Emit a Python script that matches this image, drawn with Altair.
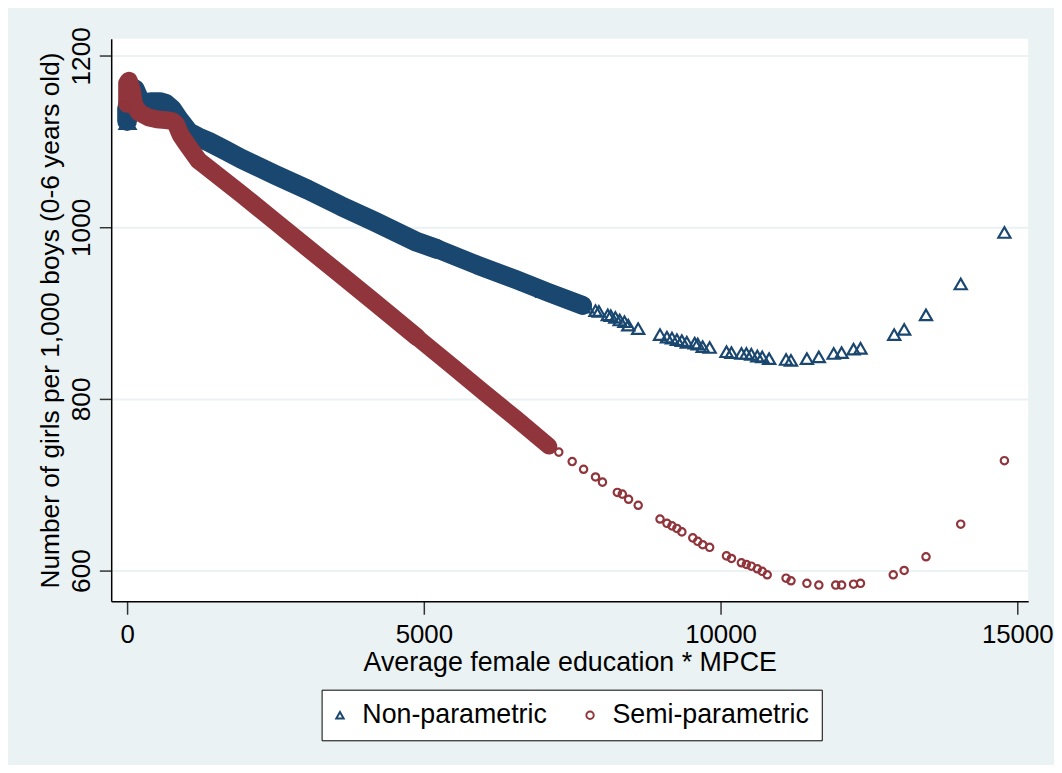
import altair as alt
import pandas as pd

SERIES = ["Non-parametric", "Semi-parametric"]
COLORS = ["#1a476f", "#90353b"]
SHAPES = ["triangle-up", "circle"]

# dense part of each series (read along the middle of the band)
np_band_x = [0, 0, 40, 90, 130, 200, 300, 420, 550, 650, 753, 870, 1037, 1200, 1371, 1650,
             1923, 2500, 3043, 3600, 4164, 4883, 5217, 5900, 6555, 7100, 7676]
np_band_y = [1124, 1138, 1150, 1158, 1161, 1150, 1145, 1146, 1146, 1144, 1138, 1126, 1111, 1105, 1100, 1090,
             1080, 1061, 1044, 1025, 1007, 983, 975, 956, 939, 924, 909]

sp_band_x = [0, 0, 30, 80, 117, 200, 368, 500, 652, 760, 819, 900, 987, 1204, 1371, 1923,
             2492, 3043, 3595, 4164, 4883, 5500, 6003, 6555, 7107]
sp_band_y = [1144, 1168, 1171, 1160, 1143, 1134, 1128, 1126, 1125, 1124, 1121, 1108, 1099, 1078, 1069, 1039,
             1007, 976, 945, 913, 872, 837, 808, 777, 745]

# individual markers
np_pt_x = [-25, 0, 40, 6722, 7000, 7391, 7600, 7750, 7893, 7950, 8100, 8150, 8227, 8300, 8380, 8445, 8612,
           8980, 9097, 9181, 9264, 9348, 9431, 9565, 9615, 9699, 9816, 10100, 10184, 10351, 10435,
           10518, 10619, 10702, 10819, 11104, 11187, 11455, 11656, 11906, 12040, 12241, 12358,
           12926, 13094, 13462, 14047, 14783]
np_pt_y = [1121, 1121, 1121, 934, 925, 918, 911, 907, 903, 902, 898, 897, 895, 892, 890, 886, 882,
           875, 872, 871, 869, 868, 866, 865, 864, 861, 860, 855, 854, 853, 853,
           852, 850, 849, 847, 846, 845, 847, 849, 853, 854, 858, 859,
           875, 881, 898, 934, 994]

sp_pt_x = [-15, 5, 25, 6605, 6756, 7107, 7274, 7500, 7692, 7893, 8010, 8261, 8344, 8450, 8612,
           8980, 9097, 9181, 9264, 9348, 9532, 9615, 9699, 9816, 10100, 10184, 10351, 10435,
           10518, 10619, 10702, 10786, 11104, 11187, 11455, 11656, 11940, 12040, 12241, 12358,
           12910, 13094, 13462, 14047, 14783]
sp_pt_y = [1143, 1143, 1143, 772, 764, 745, 738, 727, 718, 709, 703, 691, 689, 683, 676,
           660, 655, 652, 649, 645, 638, 634, 630, 627, 617, 614, 609, 607,
           605, 602, 599, 595, 591, 588, 585, 583, 583, 583, 584, 585,
           595, 600, 616, 654, 728]

x_ticks = [0, 5000, 10000, 15000]
y_ticks = [600, 800, 1000, 1200]

FONT = "Liberation Sans"


def band_rows(xs, ys, series, split_x):
    rows = []
    for i, (x, y) in enumerate(zip(xs, ys)):
        seg = 0 if x <= split_x else 1
        rows.append(dict(band=series, seg=f"{series}-{seg}", x=x, y=y, o=i))
        if x == split_x:
            rows.append(dict(band=series, seg=f"{series}-1", x=x, y=y, o=i))
    return rows


band_np = pd.DataFrame(band_rows(np_band_x, np_band_y, SERIES[0], 5217))
band_sp = pd.DataFrame(band_rows(sp_band_x, sp_band_y, SERIES[1], 4883))
pts_np = pd.DataFrame(dict(series=SERIES[0], x=np_pt_x, y=np_pt_y))
pts_sp = pd.DataFrame(dict(series=SERIES[1], x=sp_pt_x, y=sp_pt_y))

xscale = alt.Scale(domain=[-268, 15184], nice=False, zero=False)
yscale = alt.Scale(domain=[564, 1220], nice=False, zero=False)

xaxis = alt.Axis(values=x_ticks, grid=False, domainColor="black", domainWidth=1.5,
                 tickColor="#333333", tickWidth=1.5, tickSize=13,
                 labelFontSize=26, labelFont=FONT, labelColor="black", labelPadding=7,
                 labelFlush=False, labelOverlap=False, format="d",
                 title="Average female education * MPCE", titleFontSize=27, titleFont=FONT,
                 titleFontWeight="normal", titleColor="black", titleX=462, titleY=70,
                 titleBaseline="alphabetic", titleAlign="center")
yaxis = alt.Axis(values=y_ticks, grid=True, gridColor="#eaf2f3", gridWidth=2,
                 domainColor="black", domainWidth=1.5,
                 tickColor="#333333", tickWidth=1.5, tickSize=12,
                 labelFontSize=26.5, labelFont=FONT, labelColor="black", labelPadding=10,
                 labelAngle=270, labelAlign="center", labelBaseline="alphabetic",
                 labelFlush=False, labelOverlap=False, format="d",
                 title="Number of girls per 1,000 boys (0-6 years old)", titleFontSize=26.5,
                 titleFont=FONT, titleFontWeight="normal", titleColor="black",
                 titleAngle=270, titleX=-53, titleY=283.5, titleBaseline="alphabetic",
                 titleAlign="center")

X = alt.X("x:Q", scale=xscale, axis=xaxis)
Y = alt.Y("y:Q", scale=yscale, axis=yaxis)

width_scale = alt.Scale(domain=[f"{SERIES[0]}-0", f"{SERIES[0]}-1", f"{SERIES[1]}-0", f"{SERIES[1]}-1"],
                        range=[20, 17, 11, 10])

legend = alt.Legend(title=None)
color_scale = alt.Scale(domain=SERIES, range=COLORS)
shape_scale = alt.Scale(domain=SERIES, range=SHAPES)


def band_layer(df, color):
    return alt.Chart(df).mark_line(strokeCap="round", strokeJoin="round", color=color).encode(
        x=X, y=Y,
        strokeWidth=alt.StrokeWidth("seg:N", scale=width_scale, legend=None),
        detail="seg:N",
        order=alt.Order("o:Q"),
    )


def point_layer(df, size):
    return alt.Chart(df).mark_point(filled=False, size=size, strokeWidth=2.2, opacity=1).encode(
        x=X, y=Y,
        color=alt.Color("series:N", scale=color_scale, legend=legend),
        shape=alt.Shape("series:N", scale=shape_scale, legend=legend),
    )


chart = alt.layer(
    band_layer(band_np, COLORS[0]),
    point_layer(pts_np, 150),
    band_layer(band_sp, COLORS[1]),
    point_layer(pts_sp, 55),
).properties(
    width=924, height=567,
    background="#eaf2f3",
    padding={"left": 104, "top": 28, "right": 26, "bottom": 162},
    autosize=alt.AutoSizeParams(type="none"),
).configure_view(
    fill="white", stroke=None
).configure_legend(
    orient="none", legendX=212, legendY=656, direction="horizontal",
    fillColor="white", strokeColor="black", padding=12,
    labelFontSize=27, labelFont=FONT, labelColor="black", labelLimit=500,
    symbolSize=55, symbolStrokeWidth=2, symbolOffset=-7, labelOffset=9, columnPadding=34,
)

chart.save("out.html", embed_options={"renderer": "svg", "actions": False})
